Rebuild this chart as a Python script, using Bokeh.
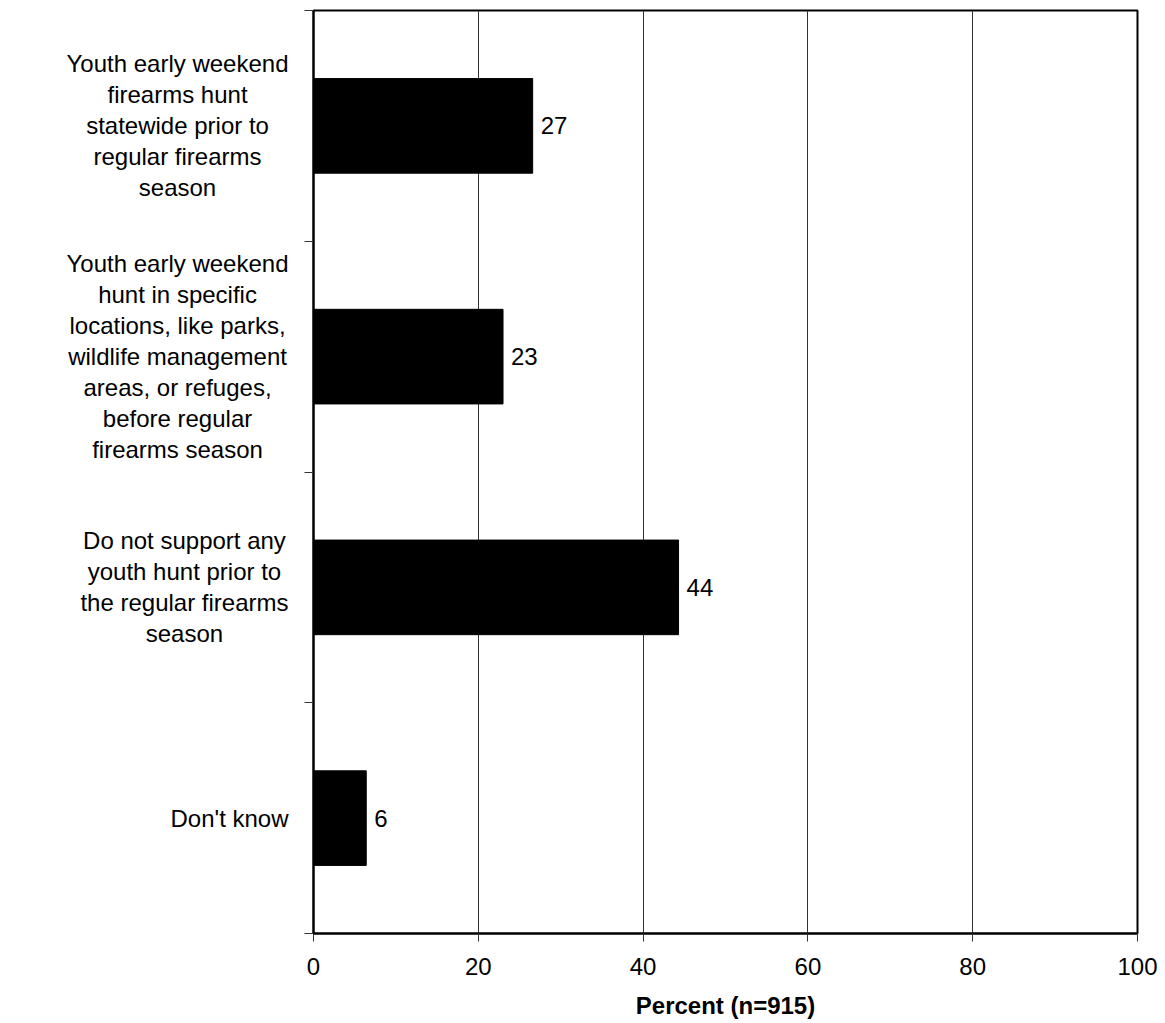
from bokeh.plotting import figure
from bokeh.layouts import row
from bokeh.models import Range1d, FixedTicker, ColumnDataSource
from bokeh.embed import file_html
from bokeh.resources import INLINE
from bokeh.core.properties import value

categories = [
    "Youth early weekend\nfirearms hunt\nstatewide prior to\nregular firearms\nseason",
    "Youth early weekend\nhunt in specific\nlocations, like parks,\nwildlife management\nareas, or refuges,\nbefore regular\nfirearms season",
    "Do not support any\nyouth hunt prior to\nthe regular firearms\nseason",
    "Don't know",
]
percents = [26.6, 23.0, 44.3, 6.4]
value_labels = ["27", "23", "44", "6"]
x_ticks = [0, 20, 40, 60, 80, 100]
x_title = "Percent (n=915)"

n = len(categories)
centers = [i + 0.5 for i in range(n)]
bounds = [float(i) for i in range(n + 1)]

FONT = "Liberation Sans"
y_rng = Range1d(n, 0)

p = figure(
    frame_width=824, frame_height=923,
    x_range=Range1d(0, 100), y_range=y_rng,
    output_backend="svg", toolbar_location=None,
    min_border_left=10, min_border_top=10, min_border_right=26, min_border_bottom=10,
)
p.background_fill_color = "white"
p.border_fill_color = "white"
p.outline_line_color = "black"
p.outline_line_width = 2

src = ColumnDataSource(dict(y=centers, x=percents, lab=value_labels))
p.hbar(y="y", right="x", left=0, height=0.41, source=src, fill_color="black", line_color="black")
p.text(x="x", y="y", text="lab", source=src, x_offset=8, text_baseline="middle", text_align="left",
       text_font=value(FONT), text_font_size="24px", text_color="black")

# x axis
p.xaxis.ticker = FixedTicker(ticks=x_ticks)
p.xaxis.axis_label = x_title
p.xaxis.axis_label_text_font = FONT
p.xaxis.axis_label_text_font_style = "bold"
p.xaxis.axis_label_text_font_size = "24px"
p.xaxis.axis_label_text_color = "black"
p.xaxis.axis_label_standoff = 14
p.xaxis.major_label_text_font = FONT
p.xaxis.major_label_text_font_size = "24px"
p.xaxis.major_label_standoff = 16
p.xaxis.major_tick_out = 8
p.xaxis.major_tick_in = 0
p.xaxis.minor_tick_out = 0
p.xaxis.axis_line_color = "black"
p.xaxis.axis_line_width = 2
p.xaxis.major_tick_line_color = "#333333"
p.xaxis.major_label_text_color = "black"

# y axis: ticks at category boundaries; labels drawn in the side figure
p.yaxis.ticker = FixedTicker(ticks=centers, minor_ticks=bounds)
p.yaxis.major_label_overrides = {c: "" for c in centers}
p.yaxis.major_label_text_font_size = "1px"
p.yaxis.major_label_standoff = 0
p.yaxis.major_tick_out = 0
p.yaxis.major_tick_in = 0
p.yaxis.minor_tick_out = 9
p.yaxis.minor_tick_in = 0
p.yaxis.minor_tick_line_color = "#333333"
p.yaxis.axis_line_color = "black"
p.yaxis.axis_line_width = 2

p.ygrid.grid_line_color = None
p.xgrid.ticker = FixedTicker(ticks=[20, 40, 60, 80])
p.xgrid.grid_line_color = "#333333"
p.xgrid.grid_line_width = 1

# category label panel sharing the y range: blocks right-anchored, lines centred
lab_fig = figure(
    frame_width=303, frame_height=923,
    x_range=Range1d(0, 1), y_range=y_rng,
    x_axis_type=None, y_axis_type=None,
    output_backend="svg", toolbar_location=None,
    min_border_left=0, min_border_right=0, min_border_top=10, min_border_bottom=10,
)
lab_fig.outline_line_color = None
lab_fig.grid.grid_line_color = None
lab_fig.background_fill_color = "white"
lab_fig.border_fill_color = "white"
lsrc = ColumnDataSource(dict(y=centers, x=[1.0] * n, lab=categories))
lab_fig.text(x="x", y="y", text="lab", source=lsrc, x_offset=-15,
             anchor=value("center_right"), text_align="center", text_baseline="middle",
             text_font=value(FONT), text_font_size="24px", text_color="black",
             text_line_height=1.15)

layout = row(lab_fig, p, spacing=0)
open("out.html", "w").write(file_html(layout, INLINE))
